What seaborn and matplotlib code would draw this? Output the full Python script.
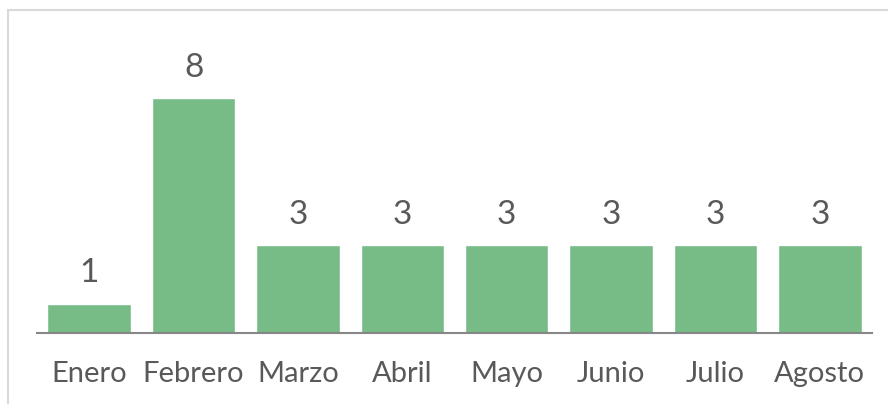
import matplotlib
matplotlib.use("Agg")
import matplotlib.pyplot as plt
import seaborn as sns
import pandas as pd
from matplotlib.patches import Rectangle

months = ["Enero", "Febrero", "Marzo", "Abril", "Mayo", "Junio", "Julio", "Agosto"]
values = [1, 8, 3, 3, 3, 3, 3, 3]

sns.set_theme(style="white")
plt.rcParams['font.family'] = ['Lato', 'DejaVu Sans']

df = pd.DataFrame({"mes": months, "valor": values})

W, H = 888, 404
fig = plt.figure(figsize=(W / 100, H / 100), dpi=100)
ax = fig.add_axes([37 / W, (H - 333) / H, (872 - 37) / W, (333 - 39) / H])

sns.barplot(data=df, x="mes", y="valor", color="#77bb87", saturation=1, width=0.8, ax=ax)
ax.set_ylim(0, 10)
ax.set_xlim(-0.5, len(months) - 0.5)

for c in ax.containers:
    ax.bar_label(c, labels=[str(v) for v in values], padding=11, fontsize=24, color="#595959")

ax.set_xlabel("")
ax.set_ylabel("")
ax.set_yticks([])
for s in ["top", "right", "left"]:
    ax.spines[s].set_visible(False)
ax.spines["bottom"].set_color("#878787")
ax.spines["bottom"].set_linewidth(1.5)
ax.tick_params(axis="x", length=0, pad=20, labelsize=21, labelcolor="#595959")

fig.patches.append(Rectangle((8 / W, -0.1), 1.2, (H - 10) / H + 0.1, transform=fig.transFigure,
                             fill=False, edgecolor="#d9d9d9", linewidth=1.5))

fig.savefig("out.png", dpi=100)
